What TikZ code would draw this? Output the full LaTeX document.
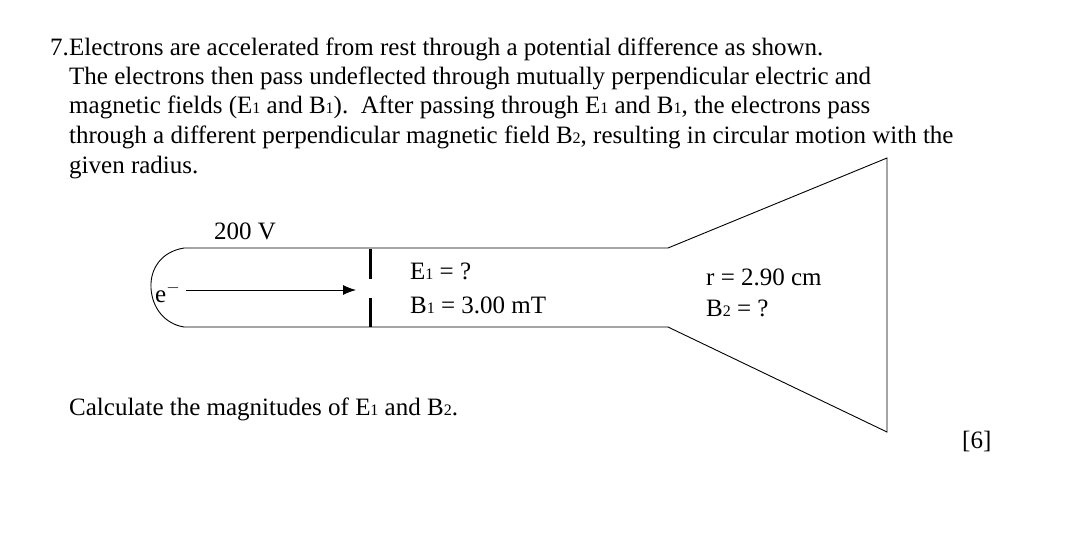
\documentclass[tikz,border=0pt]{standalone}
\usepackage{fontspec}
\setmainfont{Liberation Serif}
\usetikzlibrary{arrows.meta}
\newcommand{\sbs}[1]{{\fontsize{16pt}{16pt}\selectfont #1}}
\begin{document}
\begin{tikzpicture}[x=1pt,y=-1pt,
  txt/.style={anchor=base west,inner sep=0pt,font=\fontsize{25pt}{30pt}\selectfont},
  wall/.style={line width=0.9pt},
  plate/.style={line width=3pt}]
\useasboundingbox (0,0) rectangle (1082,552);
\node[txt] (n7) at (50,55) {7.};
\node[txt] (l1) at (69,55) {Electrons are accelerated from rest through a potential difference as shown.};
\node[txt] (l2) at (69,84) {The electrons then pass undeflected through mutually perpendicular electric and};
\node[txt] (l3) at (69,113) {magnetic fields (E\sbs{1} and B\sbs{1}).\ \ After passing through E\sbs{1} and B\sbs{1}, the electrons pass};
\node[txt] (l4) at (69,143) {through a different perpendicular magnetic field B\sbs{2}, resulting in circular motion with the};
\node[txt] (l5) at (69,173) {given radius.};
% tube
\coordinate (tl) at (184,248);
\coordinate (bl) at (184,327);
\coordinate (ft) at (668,248);
\coordinate (fb) at (668,327);
\coordinate (rt) at (887,158);
\coordinate (rb) at (887,432);
\draw[wall] (tl) .. controls (160,252) and (150,270) .. (151,288) .. controls (152,308) and (165,324) .. (bl);
\draw[wall] (tl) -- (ft) -- (rt) -- (rb) -- (fb) -- (bl);
\draw[plate] (370,249) -- (370,279);
\draw[plate] (370,298) -- (370,327);
\node[txt] (v) at (214,239) {200 V};
\node[txt] (e) at (155,302) {e$^{-}$};
\coordinate (a1) at (186,290);
\coordinate (a2) at (356,290);
\draw[line width=0.9pt,-{Latex[length=13pt,width=10pt]}] (a1) -- (a2);
\node[txt] (E1) at (410,279) {E\sbs{1} = ?};
\node[txt] (B1) at (410,313) {B\sbs{1} = 3.00 mT};
\node[txt] (r) at (706,285) {r = 2.90 cm};
\node[txt] (B2) at (706,316) {B\sbs{2} = ?};
\node[txt] (calc) at (69,415) {Calculate the magnitudes of E\sbs{1} and B\sbs{2}.};
\node[txt] (m) at (962,448) {[6]};
\end{tikzpicture}
\end{document}
